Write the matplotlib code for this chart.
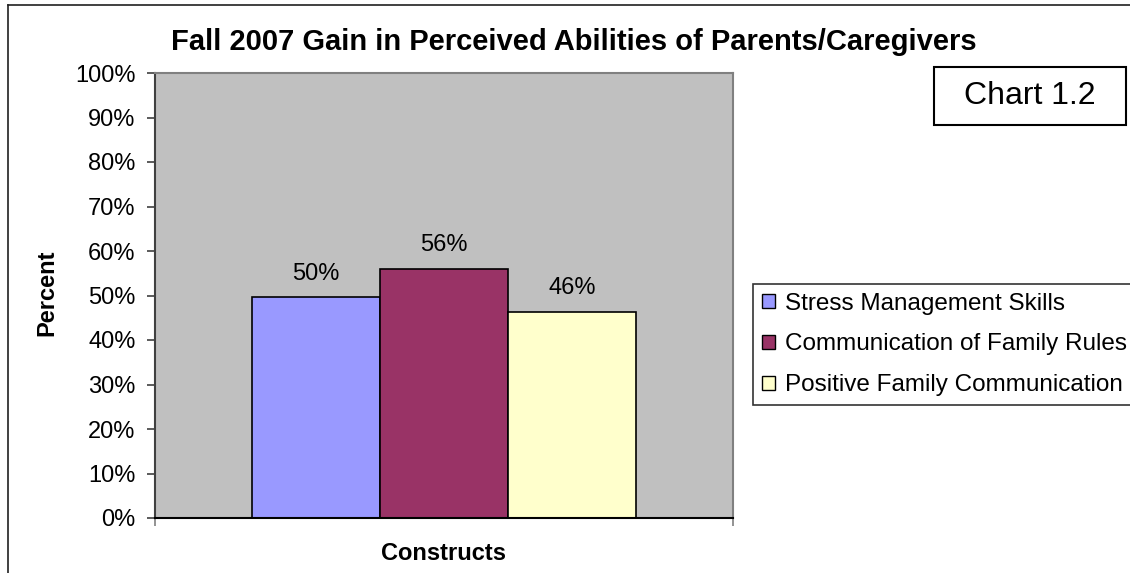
import matplotlib
matplotlib.use("Agg")
import matplotlib.pyplot as plt
from matplotlib.patches import Rectangle
from matplotlib.lines import Line2D

plt.rcParams['font.family'] = ['Liberation Sans', 'DejaVu Sans']

# data
series = ['Stress Management Skills', 'Communication of Family Rules', 'Positive Family Communication']
values = [0.496, 0.56, 0.464]
colors = ['#9999FF', '#993366', '#FFFFCC']
y_ticks = [0.0, 0.1, 0.2, 0.3, 0.4, 0.5, 0.6, 0.7, 0.8, 0.9, 1.0]

W, H = 1130, 573
fig = plt.figure(figsize=(W / 100, H / 100), dpi=100)

# figure frame (top and left only, rest is cut off)
fig.add_artist(Line2D([8 / W, 1], [1 - 5 / H, 1 - 5 / H], color='#202020', lw=1.2))
fig.add_artist(Line2D([8 / W, 8 / W], [0, 1 - 5 / H], color='#202020', lw=1.2))

ax = fig.add_axes([155 / W, (H - 518) / H, 578 / W, 445 / H])
ax.set_facecolor('#C0C0C0')

bw = 0.2215
for i, (name, v, c) in enumerate(zip(series, values, colors)):
    x = (i - 1) * bw
    ax.bar(x, v, width=bw, color=c, edgecolor='black', linewidth=1.2, label=name, zorder=3)
    ax.text(x, v + 0.028, f"{v * 100:.0f}%", ha='center', va='bottom', fontsize=17)

ax.set_xlim(-0.5, 0.5)
ax.set_ylim(0, 1)
ax.set_yticks(y_ticks)
ax.set_yticklabels([f"{t * 100:.0f}%" for t in y_ticks], fontsize=17)
ax.set_xticks([-0.5, 0.5])
ax.set_xticklabels(['', ''])
ax.tick_params(axis='y', length=6, width=1.2, color='#404040', pad=8)
ax.tick_params(axis='x', length=6, width=1.2, color='#808080')

ax.spines['left'].set_color('#404040')
ax.spines['left'].set_linewidth(1.5)
ax.spines['bottom'].set_color('black')
ax.spines['bottom'].set_linewidth(1.5)
ax.spines['bottom'].set_zorder(4)
for s in ['top', 'right']:
    ax.spines[s].set_color('#808080')
    ax.spines[s].set_linewidth(1.5)

fig.text(47 / W, 1 - 293 / H, 'Percent', rotation=90, ha='center', va='center',
         fontsize=17, fontweight='bold')
fig.text(444 / W, 1 - 554 / H, 'Constructs', ha='center', va='center',
         fontsize=17, fontweight='bold')

fig.text(574 / W, 1 - 42 / H, 'Fall 2007 Gain in Perceived Abilities of Parents/Caregivers',
         ha='center', va='center', fontsize=21, fontweight='bold')

# legend
handles = [Rectangle((0, 0), 1, 1, facecolor=c, edgecolor='black', lw=1) for c in colors]
leg = fig.legend(handles, series, loc='upper left', bbox_to_anchor=(753 / W, 1 - 284 / H),
                 fontsize=17.5, frameon=True, fancybox=False, edgecolor='black',
                 handlelength=0.55, handleheight=0.55, handletextpad=0.4,
                 labelspacing=0.78, borderpad=0.35, borderaxespad=0)
leg.get_frame().set_linewidth(1.2)

# Chart 1.2 box
fig.add_artist(Rectangle((934 / W, 1 - 125 / H), (1126 - 934) / W, (125 - 67) / H,
                         transform=fig.transFigure, facecolor='white', edgecolor='black', lw=1.5))
fig.text(1030 / W, 1 - 96 / H, 'Chart 1.2', ha='center', va='center', fontsize=23)

fig.savefig('out.png', dpi=100)
